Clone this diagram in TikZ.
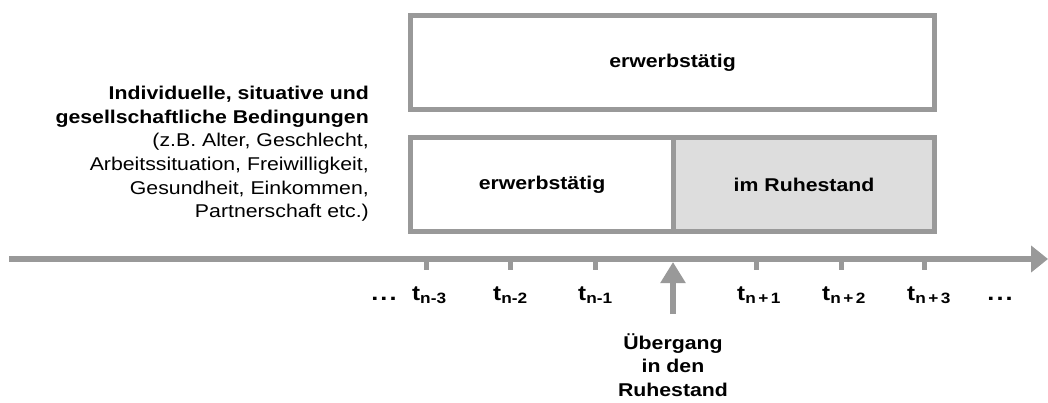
\documentclass[tikz,border=0pt]{standalone}
\usepackage{fontspec}
\setmainfont{Liberation Sans}[FakeStretch=1.15]
\usetikzlibrary{arrows.meta}
\definecolor{lgray}{HTML}{999999}
\definecolor{fgray}{HTML}{DDDDDD}
\newcommand{\tlab}[1]{{\fontsize{21}{21}\selectfont\bfseries t}\raisebox{-0.4ex}{\fontsize{15}{15}\selectfont\bfseries #1}}
\begin{document}
\begin{tikzpicture}[x=1pt,y=-1pt,
  every node/.style={font=\fontsize{18.5}{23.6}\selectfont, inner sep=0pt},
  box/.style={draw=lgray, line width=5pt, minimum height=94pt, font=\fontsize{18.5}{23.6}\selectfont\bfseries},
  tick/.style={draw=lgray, line width=5pt},
  axis/.style={draw=lgray, line width=6pt, -{Triangle[length=17pt,width=26pt]}},
  uparrow/.style={draw=lgray, line width=6pt, -{Triangle[length=21pt,width=24pt]}}]
\useasboundingbox[fill=white] (0,0) rectangle (1048,403);
% boxes
\node[box, fill=white, minimum width=524pt] (top) at (672.5,62.5) {erwerbstätig};
\node[box, fill=white, minimum width=263pt] (bl) at (542,184.5) {erwerbstätig};
\node[box, fill=fgray, minimum width=261pt] (br) at (804,184.5) {im Ruhestand};
% left text
\node[align=right, anchor=north east] (cond) at (369,86) {\textbf{Individuelle, situative und}\\
\textbf{gesellschaftliche Bedingungen}\\
(z.B. Alter, Geschlecht,\\
Arbeitssituation, Freiwilligkeit,\\
Gesundheit, Einkommen,\\
Partnerschaft etc.)};
% axis
\coordinate (axs) at (9,259);
\coordinate (axe) at (1048,259);
\draw[axis] (axs) -- (axe);
% ticks
\foreach \x/\n in {426/a,510/b,595/c,756/d,841/e,924/f}{
  \coordinate (t\n top) at (\x,259);
  \coordinate (t\n bot) at (\x,270);
  \draw[tick] (t\n top) -- (t\n bot);
}
% tick labels
\node[anchor=base west] (l1) at (412,300) {\tlab{n-3}};
\node[anchor=base west] (l2) at (493,300) {\tlab{n-2}};
\node[anchor=base west] (l3) at (578,300) {\tlab{n-1}};
\node[anchor=base west] (l4) at (737,300) {\tlab{n\,+\,1}};
\node[anchor=base west] (l5) at (822,300) {\tlab{n\,+\,2}};
\node[anchor=base west] (l6) at (907,300) {\tlab{n\,+\,3}};
\node[anchor=base] (dl) at (384,300) {\fontsize{22}{22}\selectfont\bfseries .\hspace{2pt}.\hspace{2pt}.};
\node[anchor=base] (dr) at (1000,300) {\fontsize{22}{22}\selectfont\bfseries .\hspace{2pt}.\hspace{2pt}.};
% transition arrow
\coordinate (ub) at (673,314);
\coordinate (ut) at (673,262);
\draw[uparrow] (ub) -- (ut);
\node[align=center, anchor=north, font=\fontsize{18.5}{23.6}\selectfont\bfseries] (trans) at (673,333) {Übergang\\in den\\Ruhestand};
\end{tikzpicture}
\end{document}
